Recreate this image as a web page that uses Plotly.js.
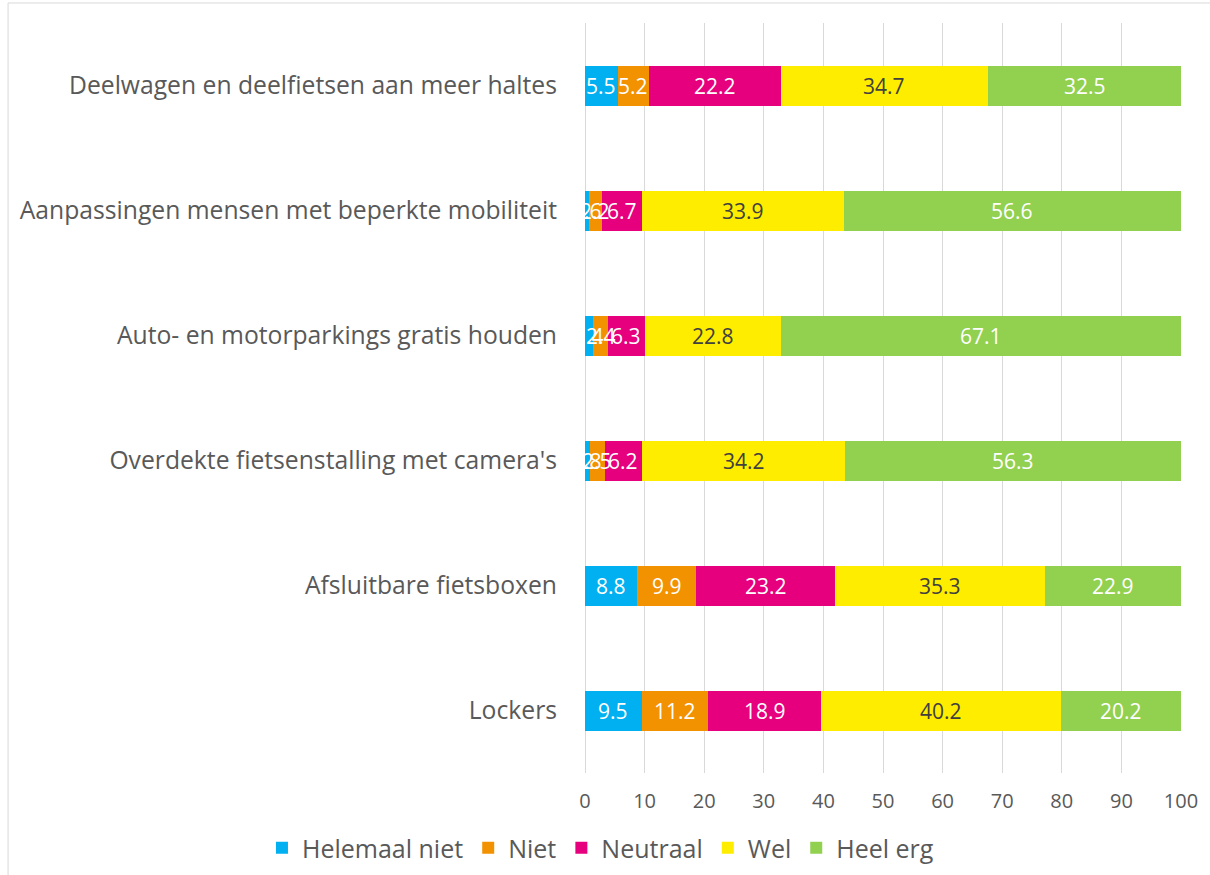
<!DOCTYPE html>
<html>
<head>
<meta charset="utf-8">
<script src="https://cdn.plot.ly/plotly-3.0.1.min.js"></script>
<style>
  html, body { margin: 0; padding: 0; background: #fff; }
  #chart { width: 1210px; height: 875px; }
</style>
</head>
<body>
<div id="chart"></div>
<script>
const categories = [
    "Deelwagen en deelfietsen aan meer haltes",
    "Aanpassingen mensen met beperkte mobiliteit",
    "Auto- en motorparkings gratis houden",
    "Overdekte fietsenstalling met camera's",
    "Afsluitbare fietsboxen",
    "Lockers",
];

const helemaalNiet = [5.5, 0.6, 1.4, 0.8, 8.8, 9.5];
const niet = [5.2, 2.2, 2.4, 2.5, 9.9, 11.2];
const neutraal = [22.2, 6.7, 6.3, 6.2, 23.2, 18.9];
const wel = [34.7, 33.9, 22.8, 34.2, 35.3, 40.2];
const heelErg = [32.5, 56.6, 67.1, 56.3, 22.9, 20.2];

const seriesNames = ["Helemaal niet", "Niet", "Neutraal", "Wel", "Heel erg"];
const seriesValues = [helemaalNiet, niet, neutraal, wel, heelErg];
const seriesColors = ["#00B0F0", "#F39200", "#E6007E", "#FFED00", "#92D050"];
const labelColors = ["#ffffff", "#ffffff", "#ffffff", "#404040", "#ffffff"];

const data = seriesNames.map((name, i) => ({
    name: name,
    type: "bar",
    orientation: "h",
    x: seriesValues[i],
    y: categories,
    marker: { color: seriesColors[i], line: { width: 0 } },
    textposition: "none",
    hoverinfo: "x+name",
}));

// value labels centred on each segment, allowed to overflow like the original
const annotations = [];
categories.forEach((cat, c) => {
    let start = 0;
    seriesValues.forEach((vals, i) => {
        const v = vals[c];
        annotations.push({
            x: start + v / 2,
            y: cat,
            xref: "x",
            yref: "y",
            text: v.toFixed(1),
            showarrow: false,
            font: { family: "Open Sans, sans-serif", size: 21, color: labelColors[i] },
        });
        start += v;
    });
});

const layout = {
    width: 1210,
    height: 875,
    barmode: "stack",
    bargap: 0.68,
    margin: { l: 585, r: 29, t: 23, b: 102, autoexpand: false },
    paper_bgcolor: "#ffffff",
    plot_bgcolor: "#ffffff",
    font: { family: "Open Sans, sans-serif", color: "#595959" },
    xaxis: {
        range: [0, 100],
        dtick: 10,
        showgrid: true,
        gridcolor: "#D9D9D9",
        gridwidth: 1,
        zeroline: true,
        zerolinecolor: "#D9D9D9",
        ticks: "",
        ticklabelstandoff: 14,
        tickfont: { size: 20, color: "#595959" },
        fixedrange: true,
    },
    yaxis: {
        autorange: "reversed",
        ticks: "",
        ticklabelstandoff: 27,
        tickfont: { size: 24.7, color: "#595959" },
        fixedrange: true,
    },
    legend: {
        orientation: "h",
        xref: "paper",
        yref: "paper",
        x: -0.542,
        xanchor: "left",
        y: -0.1,
        yanchor: "middle",
        font: { size: 25, color: "#595959" },
        itemwidth: 30,
        traceorder: "normal",
    },
    annotations: annotations,
    shapes: [{
        type: "rect",
        xref: "paper",
        yref: "paper",
        x0: -0.968,
        x1: 1.05,
        y0: -0.143,
        y1: 1.0267,
        line: { color: "#D9D9D9", width: 1 },
    }],
};

Plotly.newPlot("chart", data, layout, { displayModeBar: false });
</script>
</body>
</html>
